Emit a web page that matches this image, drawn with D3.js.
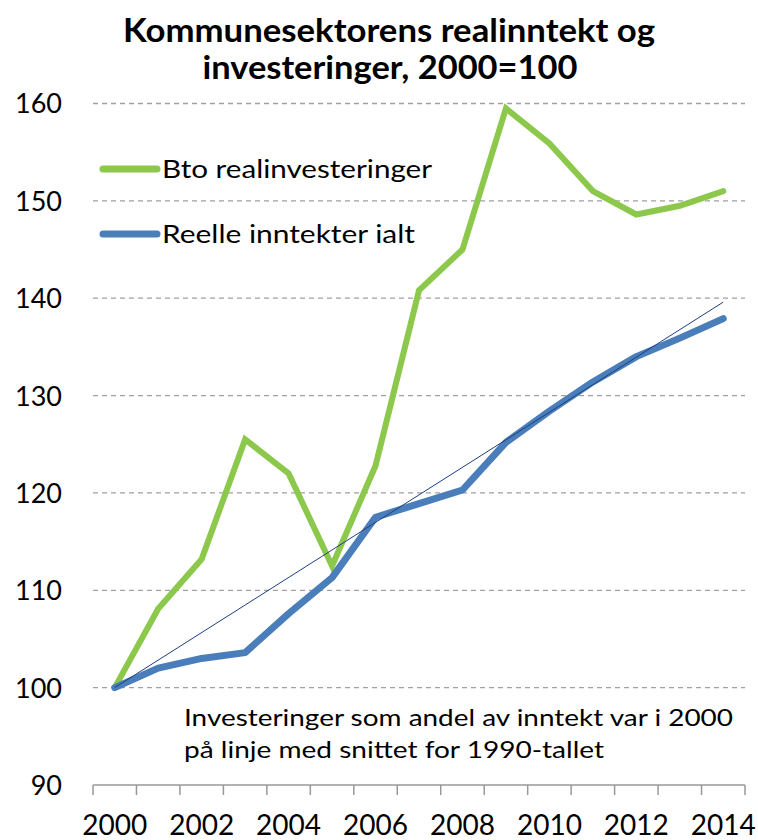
<!DOCTYPE html>
<html>
<head>
<meta charset="utf-8">
<script src="https://cdn.jsdelivr.net/npm/d3@7"></script>
<style>
  body { margin: 0; background: #fff; }
  svg text { font-family: Lato, "Open Sans", sans-serif; fill: #000; }
</style>
</head>
<body>
<svg id="chart" width="758" height="840"></svg>
<script>
const WIDTH = 758;
const HEIGHT = 840;

// data
const years = [2000, 2001, 2002, 2003, 2004, 2005, 2006, 2007, 2008, 2009, 2010, 2011, 2012, 2013, 2014];
const investeringer = [100, 108.1, 113.2, 125.5, 122.0, 112.5, 122.8, 140.8, 145.0, 159.5, 155.9, 151.0, 148.6, 149.5, 151.0];
const inntekter = [100, 102.0, 103.0, 103.6, 107.6, 111.3, 117.5, 118.9, 120.3, 125.2, 128.4, 131.4, 134.0, 135.9, 137.9];
const trendYears = [2000, 2014];
const trendValues = [100, 139.6];
const yTicks = [90, 100, 110, 120, 130, 140, 150, 160];
const xLabels = [2000, 2002, 2004, 2006, 2008, 2010, 2012, 2014];

const GREEN = "#8cc84b";
const BLUE = "#4a7ebb";
const NAVY = "#1f3f80";

const svg = d3.select("#chart");

const x = d3.scaleBand().domain(years).range([93, 745]).paddingInner(0).paddingOuter(0);
const xc = (yr) => x(yr) + x.bandwidth() / 2;
const y = d3.scaleLinear().domain([90, 160]).range([785, 103.5]);

// title
svg.append("text")
  .attr("x", 389).attr("y", 42)
  .attr("text-anchor", "middle")
  .attr("textLength", 532).attr("lengthAdjust", "spacingAndGlyphs")
  .style("font-size", "32px").style("font-weight", "bold")
  .text("Kommunesektorens realinntekt og");
svg.append("text")
  .attr("x", 390).attr("y", 79)
  .attr("text-anchor", "middle")
  .attr("textLength", 375).attr("lengthAdjust", "spacingAndGlyphs")
  .style("font-size", "32px").style("font-weight", "bold")
  .text("investeringer, 2000=100");

// gridlines (dashed) above the 90 baseline
svg.append("g")
  .selectAll("line")
  .data(yTicks.filter((d) => d > 90))
  .enter()
  .append("line")
  .attr("x1", 93).attr("x2", 745)
  .attr("y1", (d) => y(d)).attr("y2", (d) => y(d))
  .attr("stroke", "#a0a0a0")
  .attr("stroke-width", 1.3)
  .attr("stroke-dasharray", "5,4");

// y axis labels
const yAxis = d3.axisLeft(y).tickValues(yTicks).tickSize(0).tickPadding(0);
const gy = svg.append("g").attr("transform", "translate(62,0)").call(yAxis);
gy.select(".domain").remove();
gy.selectAll("text")
  .style("font-size", "27px")
  .style("font-family", "Lato, sans-serif")
  .attr("dy", "0.35em");

// x axis: baseline, tick marks at category boundaries
svg.append("line")
  .attr("x1", 93).attr("x2", 745)
  .attr("y1", y(90)).attr("y2", y(90))
  .attr("stroke", "#999").attr("stroke-width", 1.5);
svg.append("g")
  .selectAll("line")
  .data(years.map((d) => x(d)).concat([x(years[years.length - 1]) + x.bandwidth()]))
  .enter()
  .append("line")
  .attr("x1", (d) => d).attr("x2", (d) => d)
  .attr("y1", y(90)).attr("y2", y(90) + 10)
  .attr("stroke", "#999").attr("stroke-width", 1.5);

const xAxis = d3.axisBottom(x).tickValues(xLabels).tickSize(0).tickPadding(0);
const gx = svg.append("g").attr("transform", `translate(0, ${y(90)})`).call(xAxis);
gx.select(".domain").remove();
gx.selectAll("text")
  .style("font-size", "28px")
  .style("font-family", "Lato, sans-serif")
  .attr("dy", "1.78em");

// lines
const line = d3.line().x((d) => xc(d[0])).y((d) => y(d[1]));

svg.append("path")
  .datum(years.map((yr, i) => [yr, investeringer[i]]))
  .attr("d", line)
  .attr("fill", "none")
  .attr("stroke", GREEN)
  .attr("stroke-width", 6)
  .attr("stroke-linejoin", "miter")
  .attr("stroke-linecap", "round");

svg.append("path")
  .datum(years.map((yr, i) => [yr, inntekter[i]]))
  .attr("d", line)
  .attr("fill", "none")
  .attr("stroke", BLUE)
  .attr("stroke-width", 7)
  .attr("stroke-linejoin", "round")
  .attr("stroke-linecap", "round");

svg.append("path")
  .datum(trendYears.map((yr, i) => [yr, trendValues[i]]))
  .attr("d", line)
  .attr("fill", "none")
  .attr("stroke", NAVY)
  .attr("stroke-width", 1);

// legend
const legend = [
  { name: "Bto realinvesteringer", color: GREEN, y: 169, w: 270 },
  { name: "Reelle inntekter ialt", color: BLUE, y: 234, w: 253 },
];
const lg = svg.append("g").selectAll("g").data(legend).enter().append("g");
lg.append("line")
  .attr("x1", 103).attr("x2", 157)
  .attr("y1", (d) => d.y).attr("y2", (d) => d.y)
  .attr("stroke", (d) => d.color)
  .attr("stroke-width", 7)
  .attr("stroke-linecap", "round");
lg.append("text")
  .attr("x", 162)
  .attr("y", (d) => d.y + 9)
  .attr("textLength", (d) => d.w).attr("lengthAdjust", "spacingAndGlyphs")
  .style("font-size", "25.5px")
  .text((d) => d.name);

// note
svg.append("text")
  .attr("x", 184).attr("y", 726)
  .attr("textLength", 549).attr("lengthAdjust", "spacingAndGlyphs")
  .style("font-size", "24px")
  .text("Investeringer som andel av inntekt var i 2000");
svg.append("text")
  .attr("x", 184).attr("y", 758)
  .attr("textLength", 420).attr("lengthAdjust", "spacingAndGlyphs")
  .style("font-size", "24px")
  .text("på linje med snittet for 1990-tallet");
</script>
</body>
</html>
